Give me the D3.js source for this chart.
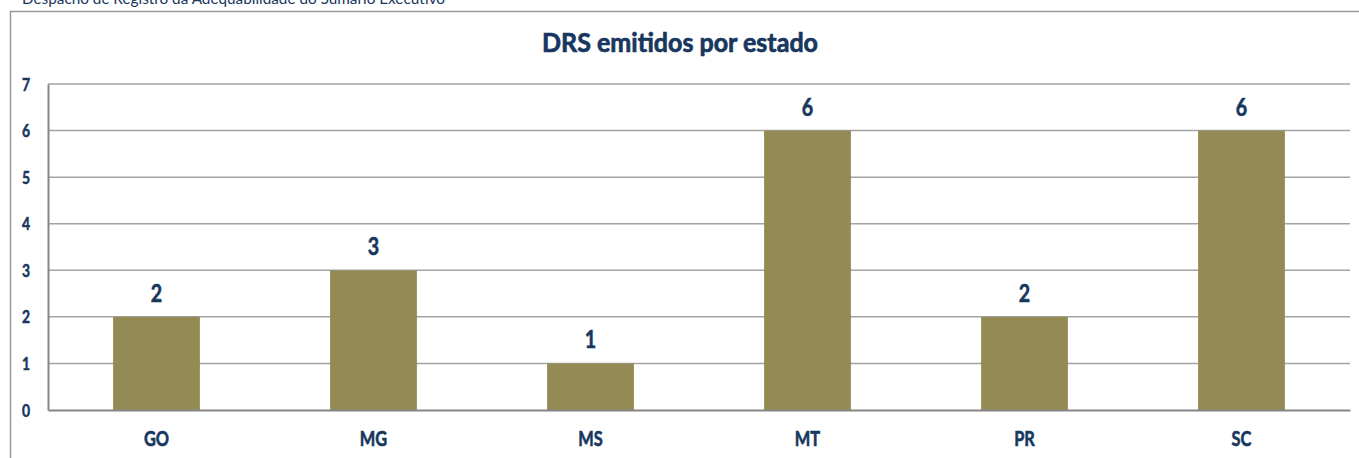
<!DOCTYPE html>
<html><head><meta charset="utf-8">
<script src="https://cdn.jsdelivr.net/npm/d3@7"></script>
<style>body{margin:0;background:#fff;}svg{display:block;}</style>
</head><body>
<svg id="chart" width="1359" height="458"></svg>
<script>
const categories = ["GO","MG","MS","MT","PR","SC"];
const values = [2,3,1,6,2,6];
const yTicks = [0,1,2,3,4,5,6,7];
const title = "DRS emitidos por estado";
const caption = "Despacho de Registro da Adequabilidade do Sumário Executivo";

const W = 1359, H = 458;
const navy = "#17375E", barColor = "#948A54";
const m = {left:48, right:9, top:84, bottom:48};
const sx = 0.82;
const font = "Lato, 'Open Sans', sans-serif";

const svg = d3.select("#chart");
svg.append("rect").attr("width",W).attr("height",H).attr("fill","#fff");

// caption (cut off at top, as in the reference)
svg.append("text").attr("x",22).attr("y",4).attr("fill",navy)
  .attr("font-family",font).attr("font-size",15)
  .attr("textLength",423).attr("lengthAdjust","spacingAndGlyphs").text(caption);

// outer frame
svg.append("path").attr("d",`M10.5,${H} L10.5,11.5 L${W},11.5`)
  .attr("fill","none").attr("stroke","#999").attr("stroke-width",1.5);

const x = d3.scaleBand().domain(categories).range([m.left, W-m.right]).paddingInner(0.6).paddingOuter(0.3);
const y = d3.scaleLinear().domain([0,7]).range([H-m.bottom, m.top]);

// gridlines
svg.append("g").selectAll("line").data(yTicks.filter(d=>d>0)).join("line")
  .attr("x1",m.left).attr("x2",W-m.right)
  .attr("y1",d=>y(d)).attr("y2",d=>y(d))
  .attr("stroke","#A3A3A3").attr("stroke-width",1.5);

// bars
svg.append("g").selectAll("rect").data(values).join("rect")
  .attr("x",(d,i)=>x(categories[i])).attr("width",x.bandwidth())
  .attr("y",d=>y(d)).attr("height",d=>y(0)-y(d))
  .attr("fill",barColor);

function boldify(sel, sw){
  sel.attr("fill",navy).attr("stroke",navy).attr("stroke-width",sw)
    .attr("font-family",font).attr("font-weight","bold");
}

// data labels
svg.append("g").selectAll("text").data(values).join("text")
  .attr("transform",(d,i)=>`translate(${x(categories[i])+x.bandwidth()/2},${y(d)-15}) scale(${sx},1)`)
  .attr("text-anchor","middle").attr("font-size",24)
  .text(d=>d).call(boldify,0.6);

// y axis
const yAxis = svg.append("g").attr("transform",`translate(${m.left},0)`)
  .call(d3.axisLeft(y).tickValues(yTicks).tickSize(0).tickPadding(0).tickFormat(d3.format("d")));
yAxis.select(".domain").attr("stroke","#868686").attr("stroke-width",2);
yAxis.selectAll("text").attr("x",null).attr("dy",null)
  .attr("transform",`translate(-22,6) scale(${sx},1)`)
  .attr("text-anchor","middle").attr("font-size",17).call(boldify,0.5);

// x axis
const xAxis = svg.append("g").attr("transform",`translate(0,${y(0)})`)
  .call(d3.axisBottom(x).tickSize(0).tickPadding(0));
xAxis.select(".domain").attr("stroke","#868686").attr("stroke-width",2);
xAxis.selectAll("text").attr("y",null).attr("dy",null)
  .attr("transform",`translate(0,36) scale(${sx},1)`)
  .attr("font-size",20).call(boldify,0.6);

// title
svg.append("text").attr("x",680).attr("y",52).attr("text-anchor","middle")
  .attr("font-size",27)
  .attr("textLength",276).attr("lengthAdjust","spacingAndGlyphs").text(title).call(boldify,0.7);
</script>
</body></html>
